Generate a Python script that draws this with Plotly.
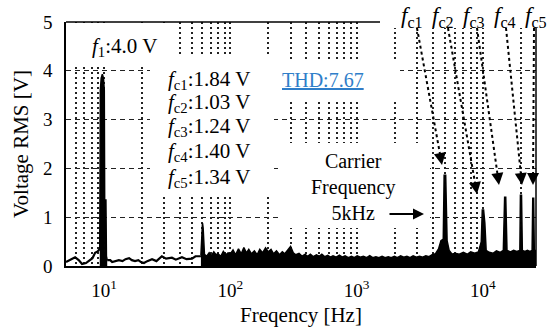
import plotly.graph_objects as go

# ---------------- data ----------------
# low-frequency part of the spectrum, drawn as a line
freq_low = [5.0, 5.4, 5.9, 6.3, 6.7, 7.2, 7.75, 8.1, 8.5, 8.9, 9.25]
volt_low = [0.08, 0.12, 0.18, 0.12, 0.04, 0.06, 0.12, 0.16, 0.27, 0.30, 0.35]

# fundamental f1 peak (filled)
freq_f1 = [9.25, 9.35, 9.5, 9.7, 9.9, 10.05, 10.15, 10.25, 10.35, 10.45, 10.6]
volt_f1 = [0.35, 3.60, 3.85, 3.93, 3.85, 3.60, 0.30, 0.25, 1.37, 0.20, 0.12]

# between f1 and 60 Hz, drawn as a line
freq_mid = [10.6, 11.2, 11.6, 12.3, 13.1, 14.0, 14.8, 15.8, 16.6, 17.6, 18.7, 19.6,
            20.7, 22.0, 24.0, 26.0, 28.7, 31.0, 34.5, 37.0, 41.4, 45.0, 49.7, 53.0,
            56.5, 58.5]
volt_mid = [0.12, 0.12, 0.08, 0.10, 0.12, 0.10, 0.14, 0.16, 0.12, 0.10, 0.12, 0.08,
            0.06, 0.10, 0.14, 0.10, 0.20, 0.15, 0.17, 0.13, 0.18, 0.14, 0.15, 0.20,
            0.20, 0.20]

# dense high-frequency part (filled), incl. carrier harmonics fc1..fc5
freq_high = [58.5, 59.0, 59.5, 60.2, 60.9, 61.6, 62.4, 65, 68, 71, 74, 77, 80, 84, 88,
             92, 96, 100, 105, 110, 116, 122, 128, 134, 140, 147, 155, 163, 171, 180,
             190, 200, 210, 220, 232, 245, 258, 270, 285, 300, 315, 330, 350, 370, 390,
             410, 430, 455, 480, 505, 530, 560, 590, 620, 650, 690, 730, 770, 810, 860,
             910, 960, 1010, 1070, 1130, 1200, 1270, 1340, 1420, 1500, 1590, 1680, 1780,
             1880, 1990, 2100, 2230, 2360, 2500, 2650, 2800, 2970, 3150, 3330, 3530,
             3740, 3960, 4200, 4450, 4650, 4850, 4930, 5070, 5200, 5400, 5700, 6000,
             6500, 7000, 7500, 8000, 8600, 9200, 9700, 9880, 10120, 10350, 10600, 11200,
             12000, 12800, 13700, 14500, 14850, 15150, 15500, 16500, 17500, 18500, 19600,
             19800, 20200, 20500, 21500, 22500, 23500, 24500, 24800, 25200, 25500, 26300]
volt_high = [0.22, 0.50, 0.82, 0.88, 0.78, 0.50, 0.24, 0.20, 0.27, 0.21, 0.29, 0.23, 0.25,
             0.20, 0.30, 0.23, 0.27, 0.25, 0.33, 0.23, 0.35, 0.25, 0.38, 0.27, 0.34, 0.25,
             0.31, 0.23, 0.34, 0.27, 0.37, 0.29, 0.34, 0.25, 0.31, 0.23, 0.29, 0.25, 0.32,
             0.40, 0.27, 0.23, 0.26, 0.20, 0.24, 0.20, 0.24, 0.19, 0.23, 0.20, 0.24, 0.19,
             0.22, 0.18, 0.21, 0.18, 0.22, 0.18, 0.21, 0.17, 0.20, 0.17, 0.21, 0.18, 0.20,
             0.17, 0.21, 0.17, 0.19, 0.17, 0.20, 0.17, 0.19, 0.17, 0.20, 0.17, 0.21, 0.18,
             0.20, 0.17, 0.21, 0.18, 0.20, 0.18, 0.21, 0.19, 0.23, 0.25, 0.35, 0.52, 0.55,
             1.86, 1.86, 0.52, 0.32, 0.24, 0.26, 0.24, 0.28, 0.24, 0.29, 0.26, 0.29, 0.50,
             1.15, 1.15, 0.88, 0.32, 0.28, 0.26, 0.31, 0.28, 0.32, 1.41, 1.41, 0.32, 0.29,
             0.32, 0.30, 0.32, 1.45, 1.45, 0.32, 0.30, 0.32, 0.30, 0.32, 1.39, 1.39, 0.32,
             0.32]

x_tickvals = [10, 100, 1000, 10000]
x_ticktext = ["10<sup>1</sup>", "10<sup>2</sup>", "10<sup>3</sup>", "10<sup>4</sup>"]
x_minor = [m * d for d in (1, 10, 100, 1000, 10000) for m in range(2, 10)]
y_tickvals = [0, 1, 2, 3, 4, 5]

f1_label = "<i>f</i><sub>1</sub>:4.0 V"
fc_names = ["c1", "c2", "c3", "c4", "c5"]
fc_values = ["1.84", "1.03", "1.24", "1.40", "1.34"]
thd_text = "THD:7.67"
carrier_text = "Carrier<br>Frequency<br>5kHz"

# ---------------- layout helpers (pixel -> paper) ----------------
W, H = 559, 336
L, T, PW, PH = 66, 22, 470, 244
FONT = "'Liberation Serif', 'Times New Roman', Times, serif"


def px(xp):
    return (xp - L) / PW


def py(yp):
    return (T + PH - yp) / PH


fig = go.Figure()
line_style = dict(color="black", width=2.2)
fig.add_trace(go.Scatter(x=freq_low, y=volt_low, mode="lines", line=line_style))
fig.add_trace(go.Scatter(x=freq_f1, y=volt_f1, mode="lines", line=dict(color="black", width=1.5),
                         fill="tozeroy", fillcolor="black"))
fig.add_trace(go.Scatter(x=freq_mid, y=volt_mid, mode="lines", line=line_style))
fig.add_trace(go.Scatter(x=freq_high, y=volt_high, mode="lines", line=dict(color="black", width=1.5),
                         fill="tozeroy", fillcolor="black"))

shapes = []
# white boxes behind the labels (hide grid lines; they do not overlap data)
for (x0, y0, x1, y1) in [(67.5, 23, 172, 65), (150, 57, 274, 196), (262, 60, 400, 101),
                         (280, 143, 430, 228), (380, 0, 559, 28)]:
    shapes.append(dict(type="rect", xref="paper", yref="paper", x0=px(x0), x1=px(x1),
                       y0=py(y1), y1=py(y0), fillcolor="white", line=dict(width=0),
                       layer="above"))
# top border (partial) and right border
shapes.append(dict(type="line", xref="paper", yref="paper", x0=0, x1=px(380), y0=1, y1=1,
                   line=dict(color="black", width=1.3)))
shapes.append(dict(type="line", xref="paper", yref="paper", x0=1, x1=1, y0=0, y1=py(28),
                   line=dict(color="black", width=1.5)))


def label(text, xp, yp, size, color="black", xanchor="center"):
    return dict(text=text, x=px(xp), y=py(yp), xref="paper", yref="paper", showarrow=False,
                xanchor=xanchor, yanchor="middle",
                font=dict(size=size, color=color, family=FONT))


annotations = [
    label(f1_label, 90, 47, 21, xanchor="left"),
    label(f"<u>{thd_text}</u>", 323, 80, 20, color="#2f7ec9"),
    label(carrier_text, 353, 187, 20),
    # solid arrow to the carrier peak
    dict(text="", x=px(424), y=py(214), xref="paper", yref="paper", showarrow=True,
         ax=-36, ay=0, arrowhead=2, arrowsize=1.1, arrowwidth=2, arrowcolor="black"),
]
fc_rows = [80, 103, 127, 152, 178]
for name, val, yr in zip(fc_names, fc_values, fc_rows):
    annotations.append(label(f"<i>f</i><sub>{name}</sub>:{val} V", 166, yr, 21, xanchor="left"))

# top labels fc1..fc5 with dotted arrows to the peaks
top_x = [412, 443, 474, 505, 536]
arrow_start = [(417, 28), (448, 28), (477, 28), (506, 28), (534, 28)]
arrow_tip = [(442, 165), (477, 194), (499, 185), (522, 185), (533, 185)]
for name, tx, (sx, sy), (ex, ey) in zip(fc_names, top_x, arrow_start, arrow_tip):
    annotations.append(label(f"<i>f</i><sub>{name}</sub>", tx, 17, 23))
    dx, dy = ex - sx, ey - sy
    n = (dx * dx + dy * dy) ** 0.5
    ux, uy = dx / n, dy / n
    shapes.append(dict(type="line", xref="paper", yref="paper", x0=px(sx), y0=py(sy),
                       x1=px(ex - ux * 6), y1=py(ey - uy * 6),
                       line=dict(color="black", width=2, dash="dot")))
    annotations.append(dict(text="", x=px(ex), y=py(ey), xref="paper", yref="paper",
                            showarrow=True, ax=-ux * 9, ay=-uy * 9, arrowhead=2,
                            arrowsize=1.2, arrowwidth=2, arrowcolor="black"))

fig.update_layout(
    width=W, height=H,
    margin=dict(l=L, r=W - L - PW, t=T, b=H - T - PH),
    paper_bgcolor="white", plot_bgcolor="white",
    showlegend=False,
    font=dict(family=FONT, color="black", size=18),
    shapes=shapes, annotations=annotations,
)
fig.update_xaxes(
    type="log", range=[0.699, 4.42],
    tickvals=x_tickvals, ticktext=x_ticktext, ticks="", ticklabelstandoff=6,
    tickfont=dict(size=19, family=FONT, color="black"),
    showline=True, linecolor="black", linewidth=1.5, mirror=False,
    showgrid=True, gridcolor="#222", gridwidth=1.5, griddash="2px,3px",
    minor=dict(tickvals=x_minor, showgrid=True, gridcolor="#222", gridwidth=1.5,
               griddash="2px,3px", ticks=""),
    zeroline=False,
    title=dict(text="Freqency [Hz]", font=dict(size=21, family=FONT, color="black"),
               standoff=8),
)
fig.update_yaxes(
    range=[0, 5], tickvals=y_tickvals, ticks="", ticklabelstandoff=8,
    tickfont=dict(size=19, family=FONT, color="black"),
    showline=True, linecolor="black", linewidth=1.5, mirror=False,
    showgrid=True, gridcolor="#222", gridwidth=1.1, griddash="5px,4px",
    zeroline=False,
    title=dict(text="Voltage RMS [V]", font=dict(size=21, family=FONT, color="black"),
               standoff=9),
)

fig.write_html("out.html")
